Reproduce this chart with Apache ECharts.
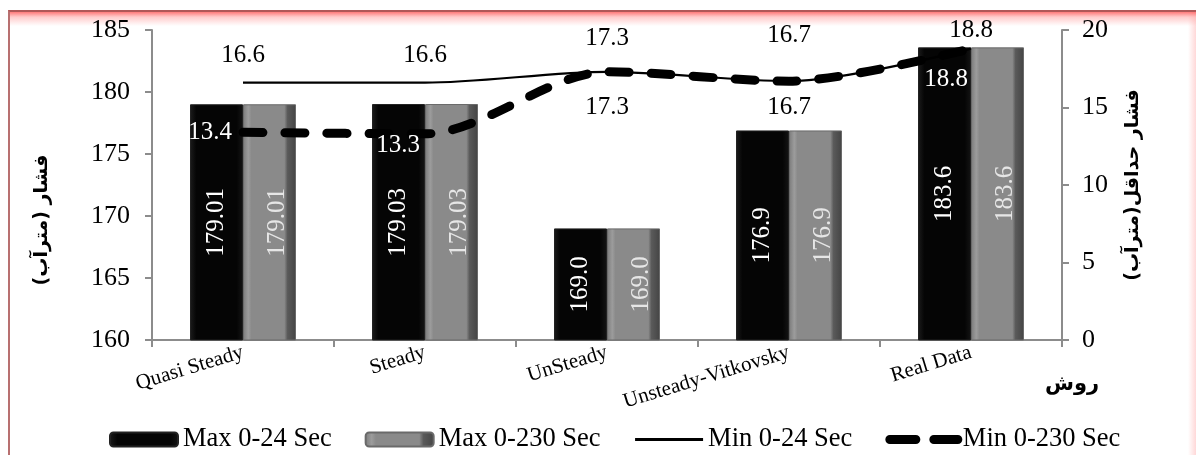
<!DOCTYPE html>
<html>
<head>
<meta charset="utf-8">
<script src="https://cdn.jsdelivr.net/npm/echarts@6/dist/echarts.min.js"></script>
<style>
  html, body { margin: 0; padding: 0; background: #fff; }
  #frame {
    position: absolute; left: 8px; top: 10px; width: 1186px; height: 460px;
    border-left: 2px solid #b87070; border-top: 2px solid #b05858;
    background:
      linear-gradient(to bottom, rgba(255,100,100,0.85) 0px, rgba(255,170,170,0.6) 5px, rgba(255,255,255,0) 14px),
      linear-gradient(to left, rgba(255,190,190,0.6) 0px, rgba(255,255,255,0) 8px);
  }
  #chart { position: absolute; left: 0; top: 0; width: 1200px; height: 455px; }
</style>
</head>
<body>
<div id="frame"></div>
<div id="chart"></div>
<script>
// ---- data ----
const categories = ['Quasi Steady', 'Steady', 'UnSteady', 'Unsteady-Vitkovsky', 'Real Data'];
const max24 = [179.01, 179.03, 169.0, 176.9, 183.6];
const max230 = [179.01, 179.03, 169.0, 176.9, 183.6];
const min24 = [16.6, 16.6, 17.3, 16.7, 18.8];
const min230 = [13.4, 13.3, 17.3, 16.7, 18.8];
const seriesNames = ['Max 0-24 Sec', 'Max 0-230 Sec', 'Min 0-24 Sec', 'Min 0-230 Sec'];
const leftTicks = { min: 160, max: 185, interval: 5 };
const rightTicks = { min: 0, max: 20, interval: 5 };
const leftAxisName = '\u200Fفشار (مترآب)\u200F';
const rightAxisName = '\u200Fفشار حداقل(مترآب)\u200F';
const xAxisName = 'روش';

// ---- presentation ----
const serif = '"Liberation Serif", "Times New Roman", serif';
const persian = '"DejaVu Sans", sans-serif';

function fmtBar(v) {
  return Math.abs(Math.round(v * 10) - v * 10) < 1e-6 ? v.toFixed(1) : v.toFixed(2);
}

const blackFill = new echarts.graphic.LinearGradient(0, 0, 1, 0, [
  { offset: 0, color: '#1c1c1c' }, { offset: 0.12, color: '#050505' },
  { offset: 0.88, color: '#050505' }, { offset: 1, color: '#141414' }
]);
const grayFill = new echarts.graphic.LinearGradient(0, 0, 1, 0, [
  { offset: 0, color: '#7a7a7a' }, { offset: 0.1, color: '#9c9c9c' },
  { offset: 0.16, color: '#8a8a8a' }, { offset: 0.78, color: '#8a8a8a' },
  { offset: 0.84, color: '#5a5a5a' }, { offset: 1, color: '#444' }
]);

// per-point label placement for the line series
const solidLabelDist = [14, 14, 20, 32, 5];
const dashLabelCfg = [
  { position: 'left', distance: 10, offset: [0, 0], color: '#fff' },
  { position: 'left', distance: 4, offset: [0, 12], color: '#fff' },
  { position: 'bottom', distance: 22, offset: [0, 0], color: '#000' },
  { position: 'bottom', distance: 13, offset: [0, 0], color: '#000' },
  { position: 'left', distance: 2, offset: [0, 31], color: '#fff' }
];

const chart = echarts.init(document.getElementById('chart'), null, { renderer: 'canvas' });

const option = {
  backgroundColor: 'transparent',
  animation: false,
  grid: { left: 152, right: 138, top: 30, bottom: 115, containLabel: false },
  legend: {
    left: 104, top: 421,
    itemWidth: 68, itemHeight: 14, itemGap: 33,
    textStyle: { fontFamily: serif, fontSize: 26.5, color: '#000' },
    data: [
      { name: seriesNames[0] },
      { name: seriesNames[1] },
      { name: seriesNames[2], itemStyle: { opacity: 0 }, lineStyle: { width: 3, color: '#000', type: 'solid' } },
      { name: seriesNames[3], itemStyle: { opacity: 0 }, lineStyle: { width: 9, color: '#000', type: [26, 18], cap: 'round' } }
    ]
  },
  graphic: [
    {
      type: 'text', left: 1045, top: 374,
      style: { text: xAxisName, font: 'bold 21px "DejaVu Sans", sans-serif', fill: '#000' }
    }
  ],
  xAxis: {
    type: 'category',
    data: categories,
    axisLine: { lineStyle: { color: '#8c8c8c', width: 2 } },
    axisTick: { show: true, length: 7, lineStyle: { color: '#8c8c8c', width: 2 } },
    axisLabel: { rotate: 17, margin: 12, fontFamily: serif, fontSize: 21, color: '#000' }
  },
  yAxis: [
    {
      type: 'value', min: leftTicks.min, max: leftTicks.max, interval: leftTicks.interval,
      name: leftAxisName, nameLocation: 'middle', nameRotate: 90, nameGap: 100,
      nameTextStyle: { fontFamily: persian, fontSize: 19, fontWeight: 'bold', color: '#000', padding: [0, 70, 0, 0] },
      axisLine: { show: true, lineStyle: { color: '#8c8c8c', width: 2 } },
      axisTick: { show: true, length: 7, lineStyle: { color: '#8c8c8c', width: 2 } },
      axisLabel: { margin: 22, fontFamily: serif, fontSize: 26, color: '#000' },
      splitLine: { show: false }
    },
    {
      type: 'value', min: rightTicks.min, max: rightTicks.max, interval: rightTicks.interval,
      name: rightAxisName, nameLocation: 'middle', nameRotate: 90, nameGap: 62,
      nameTextStyle: { fontFamily: persian, fontSize: 19, fontWeight: 'bold', color: '#000' },
      axisLine: { show: true, lineStyle: { color: '#8c8c8c', width: 2 } },
      axisTick: { show: true, length: 7, lineStyle: { color: '#8c8c8c', width: 2 } },
      axisLabel: { margin: 20, fontFamily: serif, fontSize: 26, color: '#000' },
      splitLine: { show: false }
    }
  ],
  series: [
    {
      name: seriesNames[0], type: 'bar', yAxisIndex: 0, data: max24,
      barWidth: 53, barGap: '0%', z: 2,
      itemStyle: { color: blackFill, borderColor: '#222', borderWidth: 1 },
      label: { show: true, position: 'inside', rotate: 90, fontFamily: serif, fontSize: 25, color: '#fff', formatter: p => fmtBar(p.value) }
    },
    {
      name: seriesNames[1], type: 'bar', yAxisIndex: 0, data: max230,
      barWidth: 53, barGap: '0%', z: 2,
      itemStyle: { color: grayFill, borderColor: '#6a6a6a', borderWidth: 1 },
      label: { show: true, position: 'inside', rotate: 90, offset: [0, 8], fontFamily: serif, fontSize: 25, color: '#e6e6e6', formatter: p => fmtBar(p.value) }
    },
    {
      name: seriesNames[2], type: 'line', yAxisIndex: 1, z: 5,
      data: min24.map((v, i) => ({
        value: v,
        label: { position: 'top', distance: solidLabelDist[i] }
      })),
      smooth: 0.3, symbol: 'circle', symbolSize: 2, showSymbol: true,
      lineStyle: { color: '#000', width: 2.2 },
      itemStyle: { color: 'rgba(0,0,0,0)' },
      label: { show: true, fontFamily: serif, fontSize: 25, color: '#000' }
    },
    {
      name: seriesNames[3], type: 'line', yAxisIndex: 1, z: 6,
      data: min230.map((v, i) => ({
        value: v,
        label: dashLabelCfg[i]
      })),
      smooth: 0.3, symbol: 'circle', symbolSize: 2, showSymbol: true,
      lineStyle: { color: '#000', width: 9, type: [20, 22], cap: 'round', join: 'round' },
      itemStyle: { color: 'rgba(0,0,0,0)' },
      label: { show: true, fontFamily: serif, fontSize: 25 }
    }
  ]
};

chart.setOption(option);
</script>
</body>
</html>
